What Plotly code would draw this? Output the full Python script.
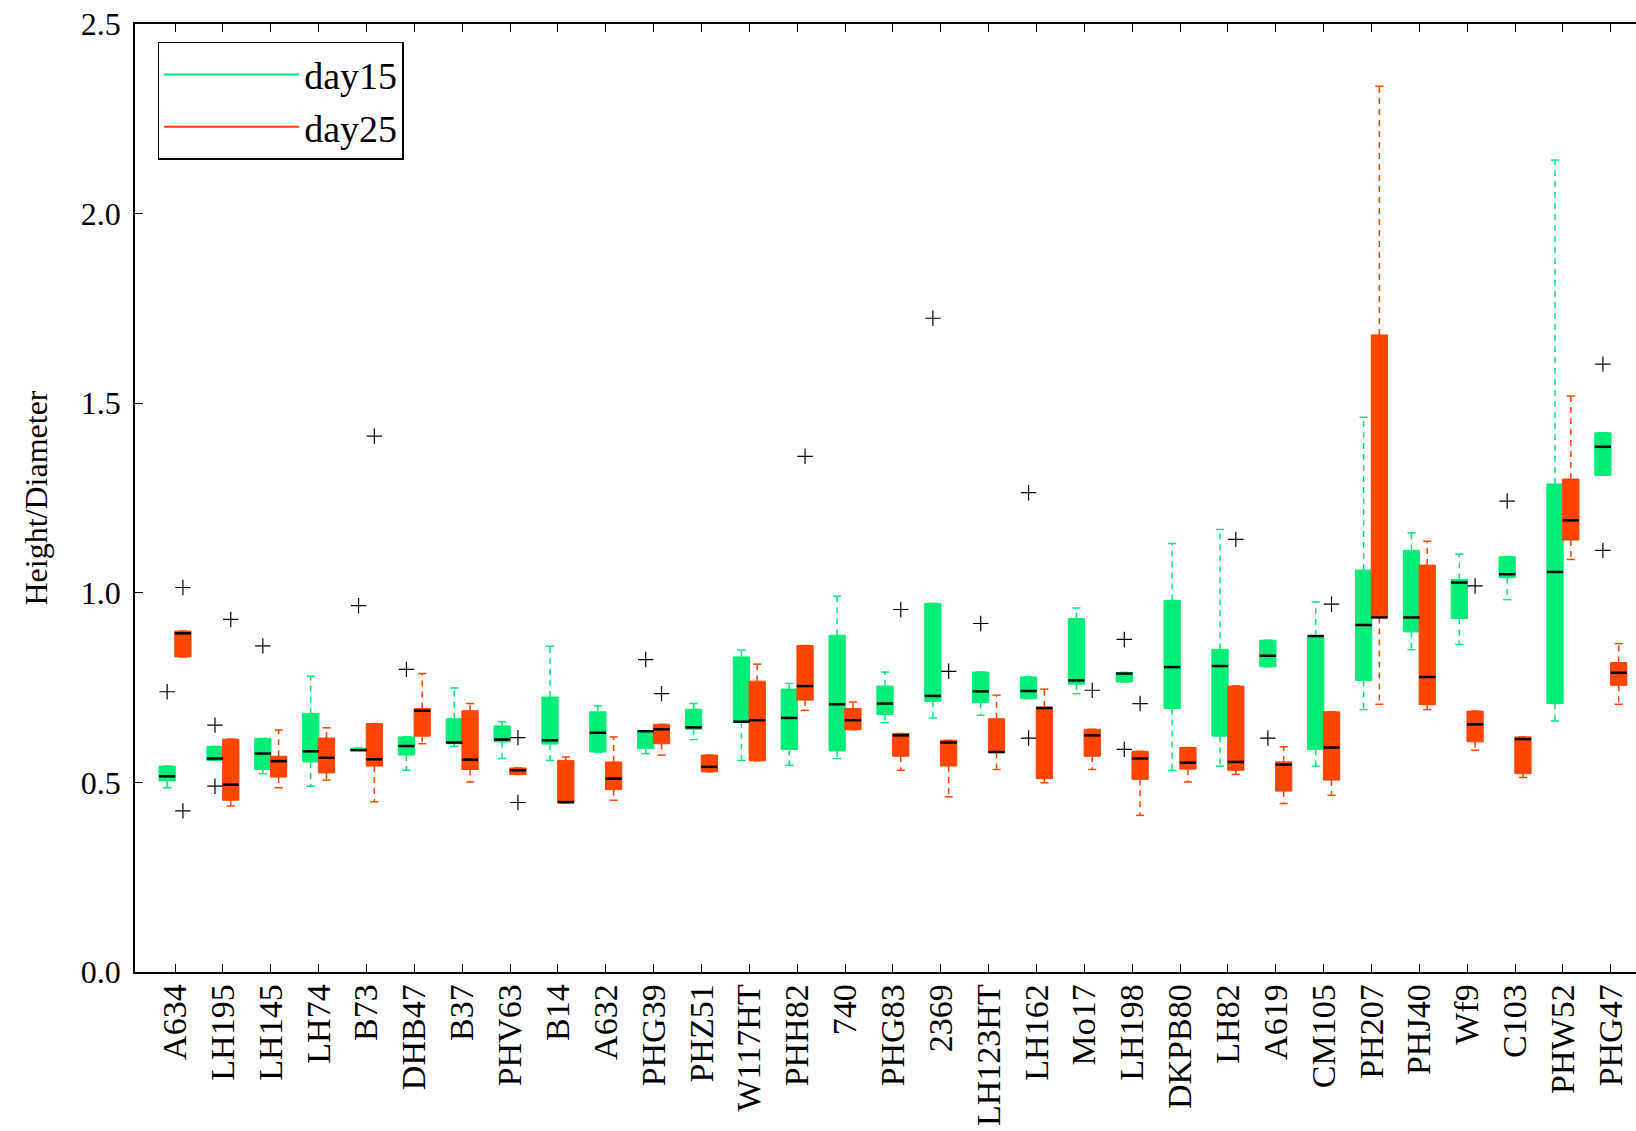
import plotly.graph_objects as go

categories = ["A634", "LH195", "LH145", "LH74", "B73", "DHB47", "B37", "PHV63", "B14", "A632",
              "PHG39", "PHZ51", "W117HT", "PHH82", "740", "PHG83", "2369", "LH123HT", "LH162", "Mo17",
              "LH198", "DKPB80", "LH82", "A619", "CM105", "PH207", "PHJ40", "Wf9", "C103", "PHW52", "PHG47"]

# day15 box statistics
d15_low = [0.486, 0.558, 0.523, 0.490, 0.585, 0.532, 0.595, 0.563, 0.558, 0.580,
           0.576, 0.613, 0.558, 0.545, 0.563, 0.658, 0.670, 0.677, 0.721, 0.734,
           0.765, 0.532, 0.543, 0.805, 0.543, 0.692, 0.850, 0.864, 0.982, 0.662, 1.310]
d15_q1 = [0.504, 0.558, 0.534, 0.554, 0.585, 0.572, 0.602, 0.607, 0.601, 0.580,
          0.589, 0.640, 0.660, 0.587, 0.583, 0.679, 0.714, 0.711, 0.721, 0.759,
          0.765, 0.695, 0.622, 0.805, 0.587, 0.769, 0.897, 0.932, 1.040, 0.708, 1.310]
d15_med = [0.516, 0.563, 0.576, 0.582, 0.585, 0.596, 0.605, 0.613, 0.611, 0.631,
           0.635, 0.645, 0.660, 0.670, 0.706, 0.708, 0.728, 0.740, 0.741, 0.769,
           0.787, 0.804, 0.807, 0.834, 0.886, 0.915, 0.935, 1.027, 1.049, 1.055, 1.385]
d15_q3 = [0.543, 0.595, 0.616, 0.682, 0.590, 0.620, 0.668, 0.649, 0.725, 0.686,
          0.635, 0.693, 0.831, 0.746, 0.888, 0.754, 0.972, 0.791, 0.778, 0.932,
          0.790, 0.980, 0.851, 0.875, 0.886, 1.060, 1.112, 1.035, 1.095, 1.287, 1.422]
d15_high = [0.543, 0.595, 0.616, 0.780, 0.590, 0.620, 0.749, 0.660, 0.859, 0.702,
            0.635, 0.708, 0.849, 0.761, 0.991, 0.791, 0.972, 0.791, 0.778, 0.960,
            0.790, 1.130, 1.167, 0.875, 0.976, 1.463, 1.158, 1.102, 1.095, 2.141, 1.422]
d15_out_cat = [0, 1, 1, 2, 4, 5, 10, 16, 17, 18, 18, 20, 20, 23, 28, 30, 30]
d15_out_val = [0.739, 0.651, 0.490, 0.860, 0.966, 0.798, 0.824, 1.724, 0.919, 1.264, 0.617,
               0.877, 0.587, 0.617, 1.242, 1.603, 1.112]

# day25 box statistics
d25_low = [0.831, 0.438, 0.486, 0.506, 0.449, 0.602, 0.501, 0.521, 0.446, 0.453,
           0.572, 0.528, 0.557, 0.690, 0.639, 0.532, 0.462, 0.534, 0.499, 0.534,
           0.413, 0.501, 0.521, 0.444, 0.466, 0.706, 0.692, 0.585, 0.513, 1.088, 0.706]
d25_q1 = [0.831, 0.453, 0.514, 0.525, 0.543, 0.622, 0.534, 0.521, 0.446, 0.481,
          0.602, 0.528, 0.557, 0.717, 0.639, 0.569, 0.543, 0.579, 0.510, 0.569,
          0.508, 0.535, 0.532, 0.477, 0.506, 0.935, 0.705, 0.607, 0.523, 1.139, 0.756]
d25_med = [0.893, 0.494, 0.556, 0.565, 0.561, 0.689, 0.560, 0.532, 0.448, 0.510,
           0.640, 0.541, 0.664, 0.754, 0.664, 0.624, 0.605, 0.580, 0.696, 0.624,
           0.563, 0.552, 0.554, 0.547, 0.592, 0.935, 0.778, 0.653, 0.614, 1.191, 0.789]
d25_q3 = [0.899, 0.614, 0.569, 0.617, 0.655, 0.695, 0.689, 0.538, 0.558, 0.554,
          0.653, 0.572, 0.767, 0.861, 0.695, 0.629, 0.611, 0.668, 0.699, 0.640,
          0.582, 0.592, 0.754, 0.554, 0.686, 1.680, 1.073, 0.688, 0.620, 1.300, 0.816]
d25_high = [0.899, 0.614, 0.638, 0.644, 0.655, 0.787, 0.708, 0.538, 0.567, 0.620,
            0.653, 0.572, 0.812, 0.861, 0.712, 0.629, 0.611, 0.730, 0.746, 0.640,
            0.582, 0.592, 0.754, 0.594, 0.686, 2.336, 1.136, 0.688, 0.620, 1.519, 0.866]
d25_out_cat = [0, 0, 1, 4, 7, 7, 10, 13, 15, 16, 19, 20, 22, 24, 27]
d25_out_val = [1.014, 0.425, 0.930, 1.413, 0.618, 0.447, 0.734, 1.360, 0.956, 0.793,
               0.743, 0.708, 1.141, 0.970, 1.018]

y_ticks = [0.0, 0.5, 1.0, 1.5, 2.0, 2.5]

GREEN = "#00EE76"
RED = "#FF4500"
FONT = "Liberation Serif, Times New Roman, serif"
OFF = 0.165
BW = 0.34
CAP = 0.17

fig = go.Figure()


def add_series(name, color, sign, lo, q1, med, q3, hi, out_cat, out_val):
    xs = [i + sign * OFF for i in range(len(categories))]
    fig.add_trace(go.Box(
        x=xs, q1=q1, median=med, q3=q3, lowerfence=q1, upperfence=q3,
        width=BW, fillcolor=color, line=dict(color=color, width=1),
        whiskerwidth=0, boxpoints=False, showlegend=False, name=name,
        hoverinfo="skip"))
    wx, wy, cx, cy, mx, my = [], [], [], [], [], []
    for x, a, b, m, c, d in zip(xs, lo, q1, med, q3, hi):
        wx += [x, x, None, x, x, None]
        wy += [b, a, None, c, d, None]
        cx += [x - CAP / 2, x + CAP / 2, None, x - CAP / 2, x + CAP / 2, None]
        cy += [a, a, None, d, d, None]
        mx += [x - BW / 2, x + BW / 2, None]
        my += [m, m, None]
    fig.add_trace(go.Scatter(x=wx, y=wy, mode="lines", showlegend=False, hoverinfo="skip",
                             line=dict(color=color, width=1.5, dash="6px,5px")))
    fig.add_trace(go.Scatter(x=cx, y=cy, mode="lines", showlegend=False, hoverinfo="skip",
                             line=dict(color=color, width=1.5)))
    fig.add_trace(go.Scatter(x=mx, y=my, mode="lines", showlegend=False, hoverinfo="skip",
                             line=dict(color="black", width=2.5)))
    fig.add_trace(go.Scatter(x=[c + sign * OFF for c in out_cat], y=out_val, mode="markers",
                             showlegend=False,
                             marker=dict(symbol="cross-thin", size=11, color="black",
                                         line=dict(color="black", width=1.2))))
    fig.add_trace(go.Scatter(x=[None], y=[None], mode="lines", name=name,
                             line=dict(color=color, width=2)))


add_series("day15", GREEN, -1, d15_low, d15_q1, d15_med, d15_q3, d15_high, d15_out_cat, d15_out_val)
add_series("day25", RED, 1, d25_low, d25_q1, d25_med, d25_q3, d25_high, d25_out_cat, d25_out_val)

fig.update_layout(
    width=1636, height=1131,
    margin=dict(l=135, r=0, t=24, b=159),
    paper_bgcolor="white", plot_bgcolor="white",
    font=dict(family=FONT, color="black"),
    boxmode="overlay",
    legend=dict(x=0.0151, y=0.9813, xanchor="left", yanchor="top",
                bordercolor="black", borderwidth=1.5, bgcolor="white",
                font=dict(family=FONT, size=38, color="black"), itemwidth=135,
                tracegroupgap=0),
    xaxis=dict(range=[-0.836, 30.527], tickmode="array", tickvals=list(range(len(categories))),
               ticktext=categories, tickangle=-90, ticks="inside", ticklen=8, tickwidth=1,
               tickcolor="black", showline=True, linecolor="black", linewidth=1.5,
               mirror="ticks", showgrid=False, zeroline=False, ticklabelstandoff=-3,
               automargin=False,
               tickfont=dict(family=FONT, size=34, color="black")),
    yaxis=dict(range=[0, 2.5], tickmode="array", tickvals=y_ticks,
               ticktext=["%.1f" % v for v in y_ticks], ticks="inside", ticklen=8,
               tickwidth=1, tickcolor="black", showline=True, linecolor="black",
               linewidth=1.5, mirror=False, showgrid=False, zeroline=False,
               ticklabelstandoff=6, automargin=False,
               tickfont=dict(family=FONT, size=32, color="black"),
               title=dict(text="Height/Diameter", standoff=24,
                          font=dict(family=FONT, size=32, color="black"))),
)

fig.write_html("out.html")
